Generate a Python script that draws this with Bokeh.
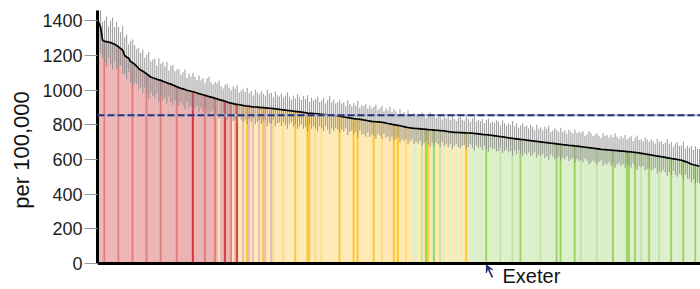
from bokeh.plotting import figure
from bokeh.models import ColumnDataSource, Range1d, Span, Label, Arrow, VeeHead, FixedTicker
from bokeh.embed import file_html
from bokeh.resources import INLINE

# Directly standardised rate per 100,000, one bar per local authority, sorted
rates = [
    1392, 1365, 1290, 1282, 1280, 1278, 1275, 1270, 1265, 1258,
    1250, 1240, 1232, 1200, 1192, 1185, 1165, 1158, 1150, 1138,
    1125, 1116, 1110, 1102, 1094, 1085, 1076, 1072, 1068, 1063,
    1060, 1057, 1052, 1047, 1043, 1039, 1035, 1030, 1025, 1020,
    1015, 1011, 1008, 1004, 1000, 997, 994, 991, 988, 984,
    980, 977, 974, 970, 967, 963, 960, 957, 953, 950,
    946, 943, 940, 936, 932, 928, 925, 923, 920, 918,
    916, 914, 912, 910, 909, 907, 905, 904, 903, 902,
    901, 900, 899, 898, 897, 896, 895, 894, 892, 891,
    889, 888, 886, 885, 883, 882, 880, 879, 877, 876,
    875, 874, 872, 870, 868, 867, 866, 865, 864, 863,
    862, 861, 860, 859, 858, 857, 856, 855, 854, 852,
    850, 848, 846, 844, 842, 840, 838, 836, 835, 834,
    832, 830, 828, 826, 824, 822, 820, 819, 818, 817,
    816, 815, 813, 811, 808, 806, 803, 801, 799, 797,
    795, 792, 790, 787, 785, 783, 781, 780, 779, 778,
    777, 776, 775, 774, 773, 772, 771, 770, 769, 768,
    767, 766, 765, 763, 761, 759, 758, 757, 757, 756,
    755, 755, 754, 754, 753, 752, 752, 750, 749, 748,
    747, 745, 744, 743, 742, 740, 739, 737, 736, 734,
    733, 731, 729, 727, 725, 723, 722, 720, 719, 718,
    716, 715, 714, 712, 711, 709, 708, 706, 705, 703,
    702, 700, 699, 697, 696, 694, 693, 692, 690, 689,
    688, 686, 685, 684, 682, 681, 680, 678, 677, 676,
    674, 673, 671, 670, 668, 667, 665, 664, 662, 661,
    659, 658, 657, 656, 655, 654, 653, 652, 651, 650,
    649, 648, 647, 646, 645, 644, 642, 641, 639, 638,
    636, 634, 632, 630, 628, 626, 624, 622, 620, 618,
    616, 614, 612, 610, 608, 606, 604, 602, 600, 598,
    596, 592, 588, 584, 578, 573, 570, 567, 564, 561,
]

# Half width of the 95% confidence interval
half_ci = [
    130, 150, 105, 120, 145, 90, 125, 150, 100, 135, 115, 95, 140, 105, 130, 80, 120, 135, 110, 100,
    120, 100, 125, 85, 110, 135, 90, 105, 115, 80, 125, 95, 110, 90, 120, 75, 105, 115, 85, 100,
    105, 80, 95, 115, 70, 100, 85, 110, 90, 75, 105, 80, 95, 70, 100, 115, 85, 75, 95, 90,
    110, 80, 70, 95, 105, 85, 75, 100, 90, 110, 70, 85, 95, 80, 105, 75, 90, 65, 100, 85,
    75, 95, 80, 70, 105, 85, 90, 65, 100, 80, 75, 95, 70, 85, 105, 80, 65, 90, 75, 100,
    85, 70, 95, 80, 105, 65, 90, 75, 85, 100, 70, 80, 95, 65, 85, 110, 75, 90, 70, 80,
    95, 75, 85, 65, 100, 80, 70, 90, 75, 105, 65, 85, 80, 95, 70, 90, 75, 85, 100, 70,
    80, 95, 65, 85, 75, 100, 70, 90, 80, 65, 95, 75, 85, 70, 100, 80, 65, 90, 75, 85,
    70, 95, 80, 65, 85, 100, 75, 90, 70, 80, 95, 65, 85, 75, 90, 70, 100, 80, 65, 85,
    90, 75, 70, 95, 80, 65, 85, 100, 70, 80, 75, 90, 65, 85, 95, 70, 80, 75, 90, 85,
    65, 95, 80, 70, 85, 75, 100, 70, 90, 65, 80, 95, 75, 85, 70, 90, 80, 65, 95, 75,
    85, 70, 90, 80, 100, 65, 75, 90, 80, 70, 95, 75, 85, 65, 90, 80, 70, 95, 75, 85,
    80, 90, 65, 75, 95, 85, 70, 80, 90, 75, 65, 95, 80, 85, 70, 90, 75, 100, 80, 70,
    85, 75, 95, 70, 80, 90, 65, 85, 100, 75, 80, 70, 95, 85, 75, 90, 80, 70, 100, 85,
    90, 75, 85, 105, 80, 95, 70, 90, 100, 80, 85, 110, 75, 95, 90, 105, 85, 110, 95, 100,
]

# Comparison with England: H = significantly higher, S = similar, L = significantly lower
significance = (
    "H" * 50
    + "H" * 10 + "SHHHHHHSHHSSHSSHSHSSHSSHSSHS" + "S" * 12
    + "S" * 50
    + "S" * 6 + "SLLSSLSLSSLLSSLSLSSLSSLSSLSSLL" + "L" * 14
    + "L" * 50
    + "L" * 50
)

# Authorities drawn with a deeper tint (comparators) and the strongest tint (region)
comparator_idx = [3, 10, 17, 24, 31, 39, 53, 58, 66, 87, 92, 108, 111, 141, 153,
                  161, 170, 200, 206, 220, 240, 248, 270, 279]
region_idx = [47, 63, 69, 74, 82, 98, 104, 105, 120, 127, 129, 137, 147, 149, 164, 183,
              163, 167, 193, 210, 228, 230, 237, 256, 263, 264, 267, 274, 285, 291, 297]

england_rate = 856
y_ticks = [0, 200, 400, 600, 800, 1000, 1200, 1400]
marked_name = "Exeter"
marked_idx = 193

palette = {
    "H": ["#EBB4B4", "#E07C7C", "#D7333A"],
    "S": ["#FFE9B2", "#FFDB7A", "#FFC52A"],
    "L": ["#DCEFCB", "#C3E4A3", "#9AD35E"],
}

xs = list(range(len(rates)))
colors = []
for i in xs:
    level = 2 if i in region_idx else (1 if i in comparator_idx else 0)
    colors.append(palette[significance[i]][level])

source = ColumnDataSource(dict(
    x=xs, rate=rates,
    lower=[r - h for r, h in zip(rates, half_ci)],
    upper=[r + h for r, h in zip(rates, half_ci)],
    color=colors,
))

p = figure(width=700, height=289, output_backend="svg", toolbar_location=None,
           x_range=Range1d(-0.5, len(rates) - 0.5), y_range=Range1d(-150, 1460),
           min_border_left=97, min_border_right=0, min_border_top=10, min_border_bottom=0)
p.outline_line_color = None
p.xgrid.visible = False
p.ygrid.visible = False
p.xaxis.visible = False
p.background_fill_color = "white"

p.vbar(x="x", top="rate", bottom=0, width=1.0, source=source, fill_color="color",
       line_color="color", line_width=0.3)
p.segment(x0="x", y0="lower", x1="x", y1="upper", source=source,
          line_color="#8a8a8a", line_width=1.1, line_alpha=0.8)
p.line(x="x", y="rate", source=source, line_color="black", line_width=1.7)

p.add_layout(Span(location=england_rate, dimension="width", line_color="#B6BAD6", line_width=2))
p.add_layout(Span(location=england_rate, dimension="width", line_color="#2B3175",
                  line_width=2, line_dash="7 3"))
p.add_layout(Span(location=0, dimension="width", line_color="black", line_width=3))

ax = p.yaxis[0]
ax.ticker = FixedTicker(ticks=y_ticks)
ax.bounds = (0, 1460)
ax.axis_line_width = 3
ax.axis_line_color = "black"
ax.major_tick_out = 13
ax.major_tick_in = 0
ax.major_tick_line_color = "#9a9a9a"
ax.minor_tick_line_color = None
ax.major_label_standoff = 2
ax.major_label_text_font = "Liberation Sans"
ax.major_label_text_font_size = "18px"
ax.major_label_text_color = "#222222"
ax.axis_label = "per 100,000"
ax.axis_label_text_font = "Liberation Sans"
ax.axis_label_text_font_size = "22px"
ax.axis_label_text_font_style = "normal"
ax.axis_label_text_color = "#111111"
ax.axis_label_standoff = 5

p.add_layout(Arrow(x_start=marked_idx + 3, y_start=-80, x_end=marked_idx, y_end=-8,
                   line_color="#1A2A6C", line_width=1.6,
                   end=VeeHead(size=7, fill_color="#1A2A6C", line_color="#1A2A6C")))
p.add_layout(Label(x=marked_idx + 8, y=-70, text=marked_name, text_baseline="middle",
                   text_font="Liberation Sans", text_font_size="20px", text_color="#111111"))

open("out.html", "w").write(file_html(p, INLINE))
